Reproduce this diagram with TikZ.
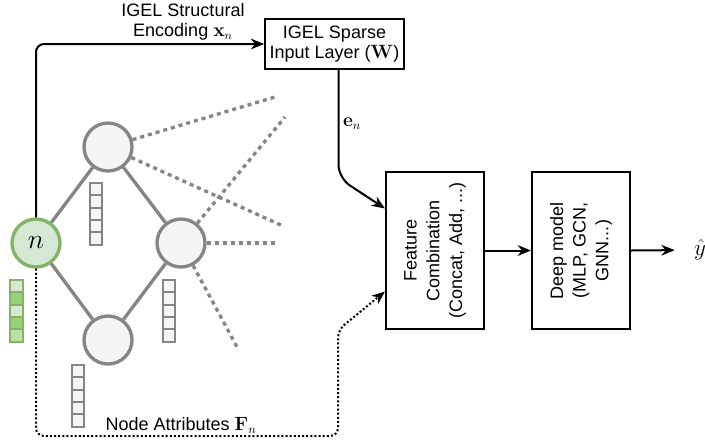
\documentclass[tikz,border=0pt]{standalone}
\usepackage{amsmath}
\usepackage[no-math]{fontspec}
\setmainfont{Liberation Sans}
\usepackage{tikz}
\usetikzlibrary{arrows.meta, positioning, calc}
\definecolor{nodegreen}{HTML}{82B366}
\definecolor{fillgreen}{HTML}{D5E8D4}
\definecolor{midgreen}{HTML}{97D077}
\definecolor{lightgreen}{HTML}{B9E0A5}
\definecolor{nodegray}{HTML}{858585}
\definecolor{fillgray}{HTML}{F5F5F5}

\begin{document}
\begin{tikzpicture}[x=0.75pt, y=-0.75pt, font=\fontsize{13.5}{15}\selectfont,
  gnode/.style={circle, draw=nodegray, line width=2.5pt, fill=fillgray, minimum size=36pt, inner sep=0pt},
  tnode/.style={circle, draw=nodegreen, line width=2.5pt, fill=fillgreen, minimum size=36pt, inner sep=0pt},
  box/.style={rectangle, draw=black, line width=1.5pt, fill=white, inner sep=2pt},
  conn/.style={line width=1.5pt, -{Stealth[length=10pt, width=8pt]}},
  edge/.style={draw=nodegray, line width=2.5pt},
  link/.style={draw=nodegray, line width=2.5pt, dash pattern=on 3pt off 3pt},
  cell/.style={draw=nodegray, fill=fillgray, line width=1.5pt}]
  \useasboundingbox (0,0) rectangle (705,440);
  % graph around the target node
  \node[tnode] (n) at (36,243) {\fontsize{21}{21}\selectfont$n$};
  \node[gnode] (top) at (108,147) {};
  \node[gnode] (right) at (181,243) {};
  \node[gnode] (bottom) at (108,340) {};
  \draw[edge] (n) -- (top) (n) -- (bottom) (top) -- (right) (bottom) -- (right);
  \foreach \src/\tx/\ty [count=\i] in {top/275/97, top/283/226, right/285/117, right/278/243, right/237/347} {
    \coordinate (far\i) at (\tx,\ty);
    \draw[link] (\src) -- (far\i);}
  % attribute vectors
  \foreach \vx/\vy in {90/183, 163/280, 72/365} \foreach \k in {0,...,4}
    \draw[cell] (\vx,\vy+12.3*\k) rectangle ++(12,12.3);
  \foreach \k/\c in {0/fillgreen, 1/midgreen, 2/fillgreen, 3/midgreen, 4/lightgreen}
    \draw[draw=nodegreen, fill=\c, line width=1.5pt] (10,280+12.3*\k) rectangle ++(13,12.3);
  % pipeline
  \node[box, minimum width=104pt, minimum height=37.5pt, align=center] (igel) at (334.5,44)
    {IGEL Sparse\\Input Layer ($\mathbf{W}$)};
  \node[box, minimum width=73.5pt, minimum height=117.75pt] (feat) at (435,250.5) {};
  \node[rotate=90, align=center, font=\fontsize{13.5}{17}\selectfont] (featlab) at (feat.center)
    {Feature\\Combination\\(Concat, Add, ...)};
  \node[box, minimum width=73.5pt, minimum height=117.75pt] (deep) at (581,250.5) {};
  \node[rotate=90, align=center, font=\fontsize{13.5}{17}\selectfont] (deeplab) at (deep.center)
    {Deep model\\(MLP, GCN,\\GNN...)};
  \node (yhat) at (700,250) {\fontsize{16}{16}\selectfont$\hat{y}$};
  \draw[conn, rounded corners=6pt] (n.north) |- (igel.west);
  \node[align=center] (enclab) at (183,22) {IGEL Structural\\Encoding $\mathbf{x}_n$};
  \draw[conn, rounded corners=10pt] ($(igel.south)+(4,0)$) -- ++(0,108) -- ($(feat.west)+(0,-42)$);
  \node (elab) at (352,124) {$\mathbf{e}_n$};
  \coordinate (corner) at (338,436);
  \draw[conn, dash pattern=on 1.5pt off 1.6pt, rounded corners=6pt]
    (n.south) |- (corner) -- ++(0,-106) -- ($(feat.west)+(0,41)$);
  \node (attlab) at (181,425) {Node Attributes $\mathbf{F}_n$};
  \draw[conn] (feat.east) -- (deep.west);
  \draw[conn, shorten >=11pt] (deep.east) -- (yhat.west);
\end{tikzpicture}
\end{document}
